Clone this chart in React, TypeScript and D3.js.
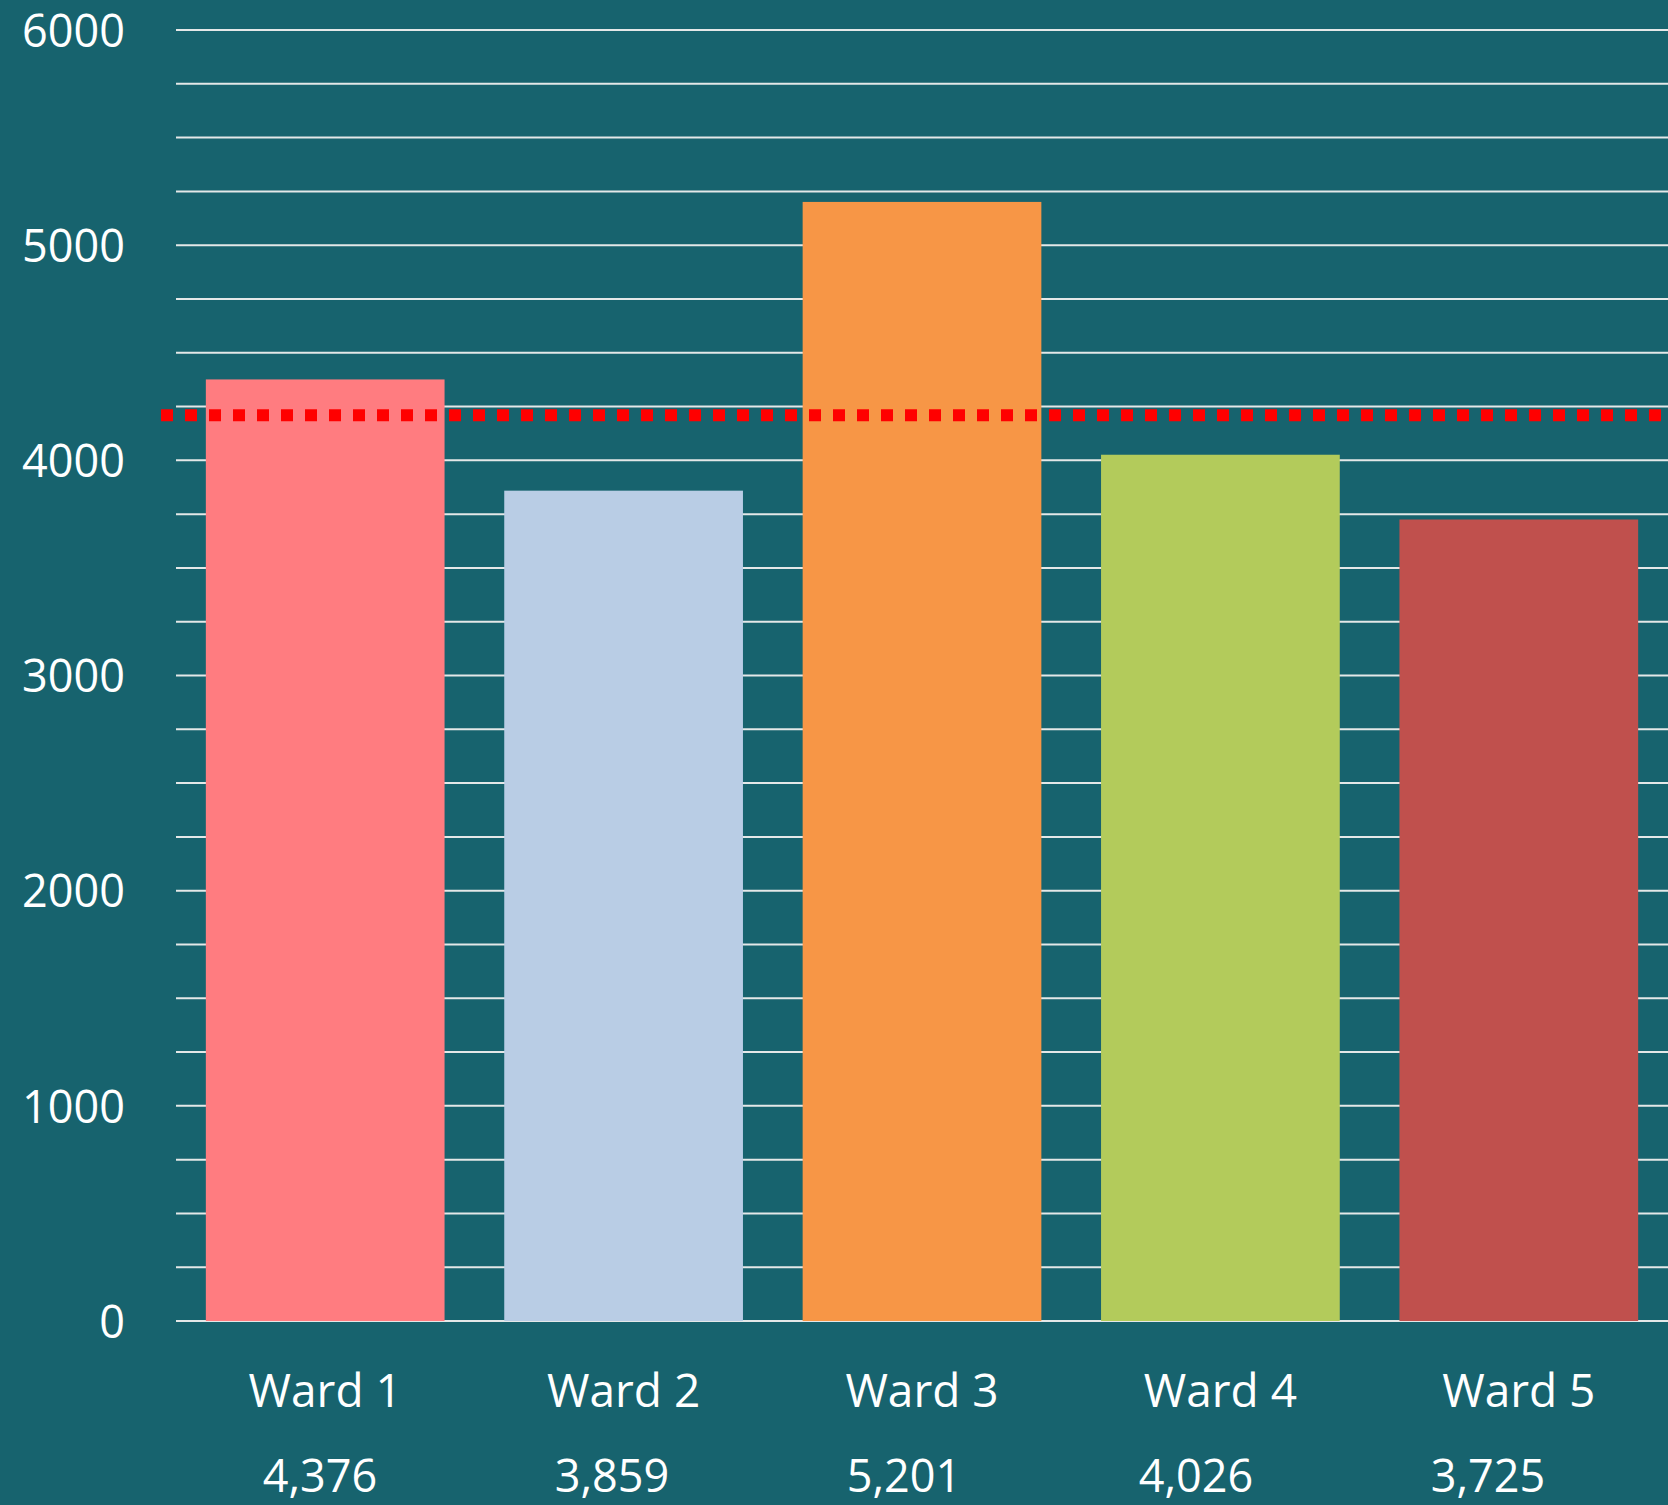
import { useEffect, useRef } from "react";
import * as d3 from "d3";

const categories = ["Ward 1", "Ward 2", "Ward 3", "Ward 4", "Ward 5"];
const values = [4376, 3859, 5201, 4026, 3725];
const barColors = ["#FF7C80", "#B9CDE5", "#F79646", "#B3CB5B", "#C0504D"];
const yTicks = [0, 1000, 2000, 3000, 4000, 5000, 6000];
const gridValues = d3.range(0, 6001, 250);
const averageValue = 4210;

const W = 1668;
const H = 1505;
const BG = "#17636E";
const FONT = "'Open Sans', 'Noto Sans', sans-serif";

export default function App() {
  const svgRef = useRef<SVGSVGElement | null>(null);

  useEffect(() => {
    const svg = svgRef.current;
    if (!svg) return;
    svg.innerHTML = "";

    const plot = { left: 176, right: W, top: 30, bottom: 1321 };

    const root = d3.select(svg).attr("width", W).attr("height", H);
    root.append("rect").attr("width", W).attr("height", H).attr("fill", BG);

    const x = d3
      .scaleBand()
      .domain(categories)
      .range([plot.left, plot.right])
      .paddingInner(0.2)
      .paddingOuter(0.1);

    // the value row under the labels sits on a slightly narrower grid
    const xTable = d3.scaleBand().domain(categories).range([174, 1634]);

    const y = d3.scaleLinear().domain([0, 6000]).range([plot.bottom, plot.top]);

    // gridlines
    root
      .append("g")
      .selectAll("line")
      .data(gridValues)
      .join("line")
      .attr("x1", plot.left)
      .attr("x2", plot.right)
      .attr("y1", (d) => y(d))
      .attr("y2", (d) => y(d))
      .attr("stroke", "#E4E8E8")
      .attr("stroke-width", 2);

    // y axis labels
    const yAxis = root
      .append("g")
      .attr("transform", "translate(125,0)")
      .call(d3.axisLeft(y).tickValues(yTicks).tickSize(0).tickPadding(0).tickFormat(d3.format("d")));
    yAxis.select(".domain").remove();
    yAxis
      .selectAll("text")
      .attr("fill", "#FFFFFF")
      .attr("font-family", FONT)
      .attr("font-size", 45)
      .attr("dy", "0.36em");

    // bars
    root
      .append("g")
      .selectAll("rect")
      .data(values)
      .join("rect")
      .attr("x", (_, i) => x(categories[i])!)
      .attr("width", x.bandwidth())
      .attr("y", (d) => y(d))
      .attr("height", (d) => y(0) - y(d))
      .attr("fill", (_, i) => barColors[i]);

    // average line
    root
      .append("line")
      .attr("x1", 161)
      .attr("x2", W)
      .attr("y1", y(averageValue))
      .attr("y2", y(averageValue))
      .attr("stroke", "#FF0000")
      .attr("stroke-width", 12)
      .attr("stroke-dasharray", "12 12");

    // category labels
    root
      .append("g")
      .selectAll("text")
      .data(categories)
      .join("text")
      .attr("x", (d) => x(d)! + x.bandwidth() / 2)
      .attr("y", 1407)
      .attr("text-anchor", "middle")
      .attr("fill", "#FFFFFF")
      .attr("font-family", FONT)
      .attr("font-size", 46)
      .text((d) => d);

    // value row
    root
      .append("g")
      .selectAll("text")
      .data(values)
      .join("text")
      .attr("x", (_, i) => xTable(categories[i])! + xTable.bandwidth() / 2)
      .attr("y", 1492)
      .attr("text-anchor", "middle")
      .attr("fill", "#FFFFFF")
      .attr("font-family", FONT)
      .attr("font-size", 45)
      .text((d) => d3.format(",")(d));
  }, []);

  return (
    <div style={{ position: "absolute", left: 0, top: 0 }}>
      <svg ref={svgRef} style={{ display: "block" }} />
    </div>
  );
}
